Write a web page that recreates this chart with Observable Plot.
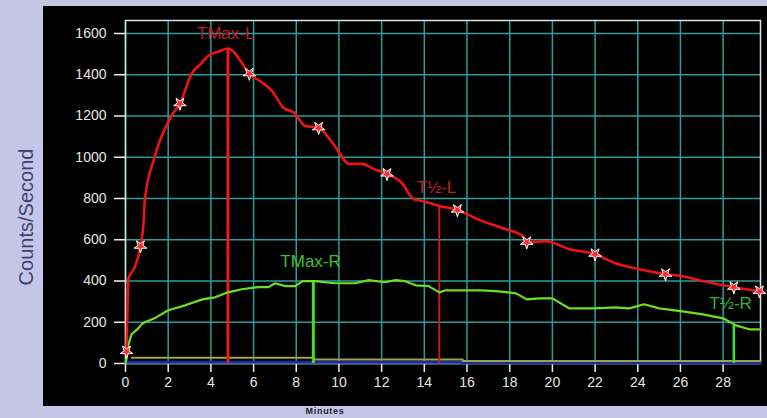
<!DOCTYPE html>
<html>
<head>
<meta charset="utf-8">
<script src="https://cdn.jsdelivr.net/npm/d3@7"></script>
<script src="https://cdn.jsdelivr.net/npm/@observablehq/plot@0.6"></script>
<style>
  html, body { margin: 0; padding: 0; background: #c5c5e6; }
  #wrap { position: relative; width: 767px; height: 418px; background: #c5c5e6; overflow: hidden; font-family: "Liberation Sans", Arial, sans-serif; }
  #panel { position: absolute; left: 43px; top: 6px; width: 730px; height: 400px; background: #000; }
  #chart { position: absolute; left: 0; top: 0; }
  #ylab { position: absolute; left: 26px; top: 217px; transform: translate(-50%, -50%) rotate(-90deg); font-size: 20px; color: #3e4270; white-space: nowrap; }
  #xlab { position: absolute; left: 325px; top: 411px; transform: translate(-50%, -50%); font-size: 9px; font-weight: bold; color: #1e1e34; letter-spacing: 0.7px; white-space: nowrap; }
</style>
</head>
<body>
<div id="wrap">
  <div id="panel"></div>
  <div id="chart"></div>
  <div id="ylab">Counts/Second</div>
  <div id="xlab">Minutes</div>
</div>
<script>
// Left kidney (red) curve
const redT = [0.05, 0.1, 0.14, 0.4, 0.7, 0.85, 0.9, 1.36, 2.15, 2.55, 3.1, 3.5, 3.9, 4.35, 4.8, 5.1, 5.4, 5.8, 6.3, 6.85, 7.4, 7.9, 8.4, 9.05, 9.7, 10.5, 11.1, 11.6, 12.25, 12.95, 13.5, 13.9, 14.7, 15.55, 16.6, 17.65, 18.6, 18.8, 19.7, 20.8, 22.0, 22.95, 24.1, 25.3, 26.1, 27.05, 28.5, 29.7];
const redY = [58, 300, 413, 460, 569, 690, 788, 1000, 1200, 1260, 1405, 1450, 1493, 1512, 1527, 1508, 1465, 1405, 1370, 1323, 1240, 1216, 1153, 1143, 1070, 968, 968, 945, 919, 875, 797, 788, 764, 744, 695, 657, 618, 588, 593, 554, 530, 486, 457, 433, 423, 399, 370, 350];

// Right kidney (green) curve
const greenT = [0, 0.05, 0.14, 0.28, 0.6, 0.75, 0.9, 1.36, 2.0, 2.8, 3.6, 4.2, 4.8, 5.45, 6.2, 6.7, 7.0, 7.5, 7.95, 8.3, 8.9, 9.8, 10.75, 11.4, 12.15, 12.65, 13.1, 13.6, 14.2, 14.7, 15.0, 16.7, 17.5, 18.3, 18.8, 19.4, 20.0, 20.8, 22.0, 22.95, 23.6, 24.3, 25.0, 26.1, 27.05, 28.0, 28.6, 29.25, 29.75];
const greenY = [0, 24, 92, 141, 170, 190, 200, 219, 258, 282, 311, 321, 345, 360, 370, 370, 389, 375, 375, 399, 399, 389, 389, 404, 394, 404, 399, 379, 375, 345, 355, 355, 350, 340, 311, 316, 316, 267, 267, 272, 267, 287, 267, 253, 238, 219, 185, 165, 165];

// Background (olive) and blue traces near zero
const oliveT = [0.3, 8.7, 8.8, 15.7, 15.8, 29.75];
const oliveY = [28, 28, 20, 20, 12, 12];
const blueT = [0, 15.7, 15.8, 29.75];
const blueY = [6, 6, 4, 4];

// Star markers on the red curve
const starT = [0.05, 0.7, 2.55, 5.8, 9.05, 12.25, 15.55, 18.8, 22.0, 25.3, 28.5, 29.7];
const starY = [58, 569, 1260, 1405, 1143, 919, 744, 588, 530, 433, 370, 350];

// Time markers (vertical lines) and labels
const markName = ["TMax-L", "T½-L", "TMax-R", "T½-R"];
const markT = [4.8, 14.7, 8.8, 28.5];
const markY = [1527, 764, 399, 190];
const markColor = ["#ee1a1a", "#c41c1c", "#3ee01e", "#3ee01e"];
const markWidth = [3, 2, 3, 2.5];
const labelT = [4.69, 14.57, 8.67, 28.35];
const labelY = [1600, 853, 495, 291];
const labelColor = ["#c41c22", "#c41c22", "#3cc22c", "#34b42a"];

const xTicks = [0, 2, 4, 6, 8, 10, 12, 14, 16, 18, 20, 22, 24, 26, 28];
const yTicks = [0, 200, 400, 600, 800, 1000, 1200, 1400, 1600];

const red = redT.map((t, i) => ({t, v: redY[i]}));
const green = greenT.map((t, i) => ({t, v: greenY[i]}));
const olive = oliveT.map((t, i) => ({t, v: oliveY[i]}));
const blue = blueT.map((t, i) => ({t, v: blueY[i]}));
const stars = starT.map((t, i) => ({t, v: starY[i]}));
const marks = markName.map((n, i) => ({n, t: markT[i], v: markY[i], c: markColor[i], w: markWidth[i], lt: labelT[i], lv: labelY[i], lc: labelColor[i]}));

const chart = Plot.plot({
  width: 767,
  height: 418,
  marginLeft: 125,
  marginRight: 7,
  marginTop: 20,
  marginBottom: 55,
  style: {background: "transparent", color: "#e6e6e6", fontFamily: "'Liberation Sans', Arial, sans-serif", fontSize: "14px", overflow: "visible"},
  x: {domain: [0, 29.75]},
  y: {domain: [0, 1663]},
  marks: [
    Plot.gridX(xTicks, {stroke: "#2c9c9c", strokeOpacity: 1, strokeWidth: 1.5}),
    Plot.gridY(yTicks, {stroke: "#2c9c9c", strokeOpacity: 1, strokeWidth: 1.5}),
    Plot.frame({stroke: "#d4e6e6", strokeWidth: 1.5}),
    Plot.axisX(xTicks, {tickSize: 9, tickPadding: 5, label: null, fontSize: 14, stroke: "#f0f0f0", strokeWidth: 1.5, fill: "#e6e6e6", tickFormat: d => String(d)}),
    Plot.axisY(yTicks, {tickSize: 11, tickPadding: 8, label: null, fontSize: 14, stroke: "#f0f0f0", strokeWidth: 1.5, fill: "#e6e6e6", tickFormat: d => String(d)}),
    Plot.line(blue, {x: "t", y: "v", stroke: "#1c2c9c", strokeWidth: 3}),
    Plot.line(olive, {x: "t", y: "v", stroke: "#a2a24e", strokeWidth: 2, curve: "step-after"}),
    Plot.ruleX(marks, {x: "t", y1: 0, y2: "v", stroke: "c", strokeWidth: "w"}),
    Plot.line(green, {x: "t", y: "v", stroke: "#6ee024", strokeWidth: 2.2, curve: "linear"}),
    Plot.line(red, {x: "t", y: "v", stroke: "#ee1414", strokeWidth: 2.6, curve: "monotone-x"}),
    Plot.dot(stars, {x: "t", y: "v", symbol: "star", r: 4, fill: "#ff2a2a", stroke: "#ffffff", strokeWidth: 1, rotate: 180}),
    Plot.text(marks, {x: "lt", y: "lv", text: "n", fill: "lc", fontSize: 17, textAnchor: "middle", lineAnchor: "middle"})
  ]
});
document.getElementById("chart").appendChild(chart);
</script>
</body>
</html>
